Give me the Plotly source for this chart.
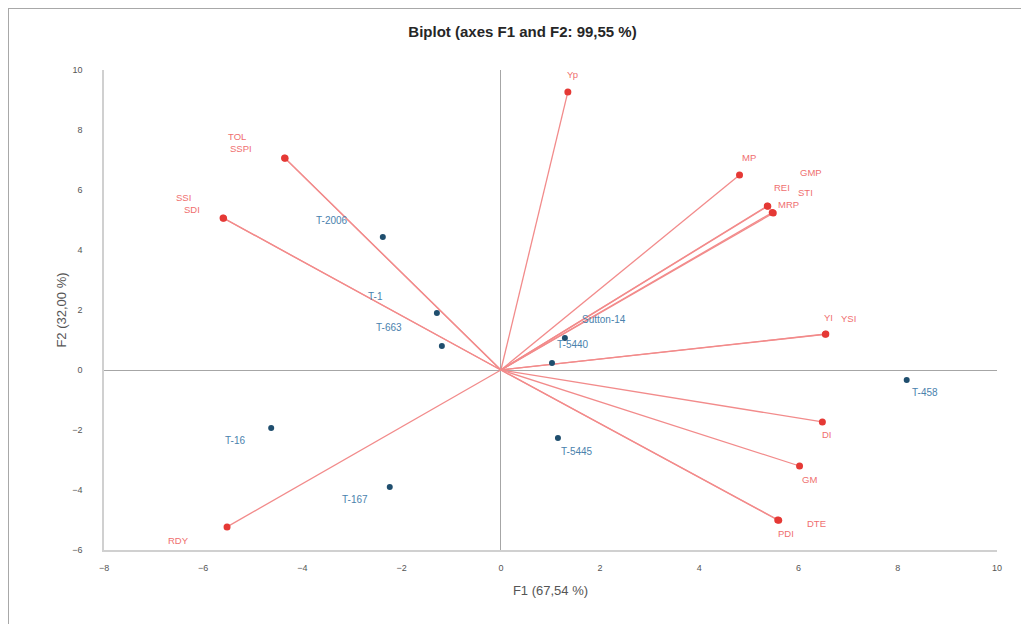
import plotly.graph_objects as go

# Variables (active vectors)
var_names = ["Yp", "TOL", "SSPI", "SSI", "SDI", "MP", "REI", "STI", "GMP", "MRP",
             "YI", "YSI", "DI", "GM", "PDI", "DTE", "RDY"]
var_f1 = [1.35, -4.36, -4.35, -5.6, -5.59, 4.81, 5.37, 5.38, 5.49, 5.47,
          6.55, 6.54, 6.48, 6.02, 5.58, 5.6, -5.52]
var_f2 = [9.27, 7.07, 7.06, 5.07, 5.06, 6.5, 5.47, 5.46, 5.23, 5.25,
          1.2, 1.19, -1.73, -3.2, -5.0, -5.01, -5.23]

# Observations (genotypes)
obs_names = ["T-2006", "T-1", "T-663", "Sutton-14", "T-5440", "T-458", "T-16", "T-5445", "T-167"]
obs_f1 = [-2.38, -1.29, -1.19, 1.29, 1.03, 8.18, -4.63, 1.15, -2.24]
obs_f2 = [4.43, 1.9, 0.8, 1.07, 0.23, -0.33, -1.93, -2.27, -3.9]

x_ticks = [-8, -6, -4, -2, 0, 2, 4, 6, 8, 10]
y_ticks = [-6, -4, -2, 0, 2, 4, 6, 8, 10]

# label offsets in pixels (style only)
var_offsets = {
    "Yp": (5, 17), "TOL": (-48, 21), "SSPI": (-44, 10), "SSI": (-40, 20), "SDI": (-32, 9),
    "MP": (9, 18), "REI": (15, 18), "STI": (38, 14), "GMP": (38, 41), "MRP": (16, 8),
    "YI": (3, 17), "YSI": (23, 16), "DI": (5, -13), "GM": (10, -13), "PDI": (8, -13),
    "DTE": (38, -3), "RDY": (-49, -14),
}
obs_offsets = {
    "T-2006": (-51, 17), "T-1": (-61, 17), "T-663": (-53, 19), "Sutton-14": (39, 18),
    "T-5440": (21, 19), "T-458": (18, -13), "T-16": (-36, -13), "T-5445": (19, -13),
    "T-167": (-35, -12),
}

RED_LINE = "#f28b8b"
RED_PT = "#e53935"
RED_TXT = "#ef6f6f"
BLUE_PT = "#1f4e6e"
BLUE_TXT = "#4a82ad"
FONT = "Liberation Sans, Arial"

fig = go.Figure()

lx, ly = [], []
for x, y in zip(var_f1, var_f2):
    lx += [0, x, None]
    ly += [0, y, None]
fig.add_trace(go.Scatter(x=lx, y=ly, mode="lines",
                         line=dict(color=RED_LINE, width=1.3),
                         hoverinfo="skip", showlegend=False))
fig.add_trace(go.Scatter(x=var_f1, y=var_f2, mode="markers", text=var_names,
                         marker=dict(color=RED_PT, size=7),
                         showlegend=False))
fig.add_trace(go.Scatter(x=obs_f1, y=obs_f2, mode="markers", text=obs_names,
                         marker=dict(color=BLUE_PT, size=6),
                         showlegend=False))

annotations = []
for n, x, y in zip(var_names, var_f1, var_f2):
    dx, dy = var_offsets[n]
    annotations.append(dict(x=x, y=y, text=n, showarrow=False, xshift=dx, yshift=dy,
                            font=dict(color=RED_TXT, size=9.5, family=FONT)))
for n, x, y in zip(obs_names, obs_f1, obs_f2):
    dx, dy = obs_offsets[n]
    annotations.append(dict(x=x, y=y, text=n, showarrow=False, xshift=dx, yshift=dy,
                            font=dict(color=BLUE_TXT, size=10, family=FONT)))

fig.update_layout(
    width=1029, height=624,
    paper_bgcolor="white", plot_bgcolor="white",
    margin=dict(l=96, r=40, t=62, b=82),
    title=dict(text="<b>Biplot (axes F1 and F2: 99,55 %)</b>", x=0.5, xanchor="center",
               y=0.9615, yanchor="middle",
               font=dict(size=15, color="#262626", family=FONT)),
    annotations=annotations,
    xaxis=dict(range=[-8, 10], tickvals=x_ticks, showgrid=False, zeroline=True,
               zerolinecolor="#a6a6a6", zerolinewidth=1.2,
               showline=True, linecolor="#d0d0d0", linewidth=1.5, ticks="",
               ticklabelstandoff=8,
               tickfont=dict(size=9, color="#555555", family=FONT),
               title=dict(text="F1 (67,54 %)", standoff=14,
                          font=dict(size=13, color="#555555", family=FONT))),
    yaxis=dict(range=[-6, 10], tickvals=y_ticks, showgrid=False, zeroline=True,
               zerolinecolor="#a6a6a6", zerolinewidth=1.2,
               showline=True, linecolor="#d0d0d0", linewidth=1.5, ticks="",
               ticklabelstandoff=18,
               tickfont=dict(size=9, color="#555555", family=FONT),
               title=dict(text="F2 (32,00 %)", standoff=3,
                          font=dict(size=13, color="#555555", family=FONT))),
    shapes=[
        dict(type="line", xref="paper", yref="paper", x0=-0.1075, x1=1.05, y0=1.129, y1=1.129,
             line=dict(color="#a8a8a8", width=2)),
        dict(type="line", xref="paper", yref="paper", x0=-0.1075, x1=-0.1075, y0=1.129, y1=-0.17,
             line=dict(color="#a8a8a8", width=2)),
    ],
)

fig.write_html("out.html")
